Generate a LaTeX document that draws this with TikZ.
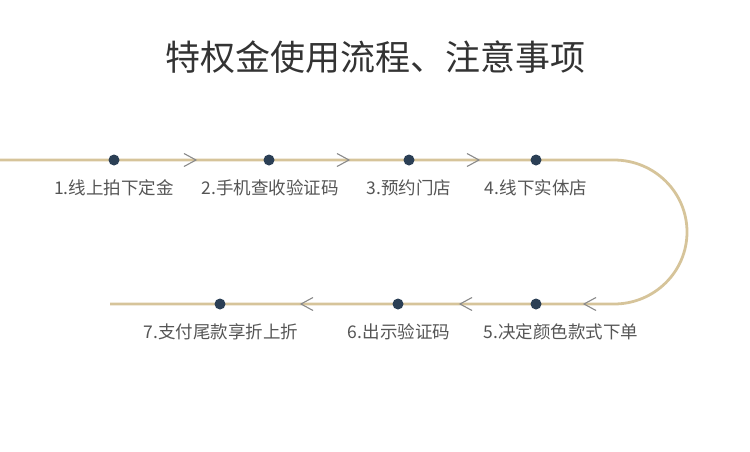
\documentclass[tikz,border=0pt]{standalone}
\usepackage{fontspec}
\newfontfamily\cjk{Noto Sans CJK SC}
\definecolor{track}{HTML}{D6C49A}
\definecolor{dotc}{HTML}{2B3F55}
\definecolor{chev}{HTML}{8A8A8A}
\definecolor{lbl}{HTML}{555555}
\begin{document}
\begin{tikzpicture}[x=1pt,y=-1pt,
  dotn/.style={circle,fill=dotc,inner sep=0pt,minimum size=11pt},
  lab/.style={font=\cjk\fontsize{17.5}{20}\selectfont,text=lbl,anchor=center},
  chevr/.style={draw=chev,line width=1.1pt,line join=miter},
]
\useasboundingbox (0,0) rectangle (750,451);
\node[font=\cjk\fontsize{35}{40}\selectfont,text=black!80] (title) at (375,57) {特权金使用流程、注意事项};
% track
\coordinate (s) at (0,160);
\coordinate (e) at (110,304);
\draw[track,line width=2.8pt] (s) -- (614,160) arc[start angle=-90,end angle=90,x radius=73,y radius=72] -- (e);
% nodes
\node[dotn] (d1) at (114,160) {};
\node[dotn] (d2) at (269,160) {};
\node[dotn] (d3) at (409,160) {};
\node[dotn] (d4) at (536,160) {};
\node[dotn] (d5) at (536,304) {};
\node[dotn] (d6) at (398,304) {};
\node[dotn] (d7) at (220,304) {};
% chevrons
\foreach \x in {190,343,473} \draw[chevr] (\x-6,153.5) -- (\x+6,160) -- (\x-6,166.5);
\foreach \x in {307,466,590} \draw[chevr] (\x+6,297.5) -- (\x-6,304) -- (\x+6,310.5);
% labels
\node[lab] (l1) at (114,188) {1.线上拍下定金};
\node[lab] (l2) at (270,188) {2.手机查收验证码};
\node[lab] (l3) at (409,188) {3.预约门店};
\node[lab] (l4) at (536,188) {4.线下实体店};
\node[lab] (l5) at (561,332) {5.决定颜色款式下单};
\node[lab] (l6) at (399,332) {6.出示验证码};
\node[lab] (l7) at (221,332) {7.支付尾款享折上折};
\end{tikzpicture}
\end{document}
